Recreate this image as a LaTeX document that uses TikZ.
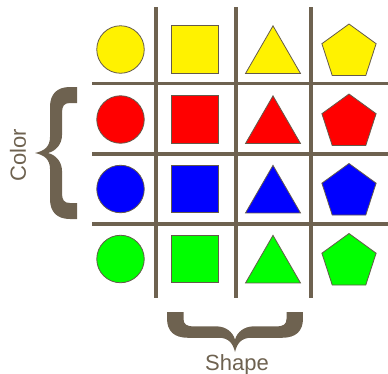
\documentclass[tikz,border=0pt]{standalone}
\usepackage{fontspec}
\setmainfont{Liberation Sans}
\usetikzlibrary{shapes.geometric}
\definecolor{brn}{RGB}{110,98,80}
\definecolor{edgec}{RGB}{100,90,75}
\newcommand\bracefill{%
  \fill[brn] (42,-66) -- (35,-66) .. controls (22,-66) and (15,-59) .. (15,-46)
    -- (15,-16) .. controls (15,-6) and (9,-2) .. (0,0)
    .. controls (9,2) and (15,6) .. (15,16)
    -- (15,46) .. controls (15,59) and (22,66) .. (35,66)
    -- (42,66) -- (42,50) -- (35,50) .. controls (29,50) and (27,47) .. (27,40)
    -- (27,18) .. controls (27,9) and (21,2) .. (13,0)
    .. controls (21,-2) and (27,-9) .. (27,-18)
    -- (27,-40) .. controls (27,-47) and (29,-50) .. (35,-50)
    -- (42,-50) -- cycle;}
\begin{document}
\begin{tikzpicture}[x=1pt,y=-1pt,
  grid/.style={draw=brn,line width=3.6pt},
  shp/.style={draw=edgec,line width=0.8pt,inner sep=0pt,outer sep=0pt},
  circ/.style={shp,circle,minimum size=47.5pt},
  sq/.style={shp,rectangle,minimum size=47.5pt},
  tri/.style={shp,regular polygon,regular polygon sides=3,minimum size=63.5pt},
  pent/.style={shp,regular polygon,regular polygon sides=5,minimum size=57pt},
  lbl/.style={text=brn,font=\fontsize{22}{26}\selectfont,inner sep=0pt}]
\useasboundingbox (0,0) rectangle (388,373);
% grid lines
\coordinate (h1l) at (92,83.5);  \coordinate (h1r) at (388,83.5);
\coordinate (h2l) at (92,154);   \coordinate (h2r) at (388,154);
\coordinate (h3l) at (92,224);   \coordinate (h3r) at (388,224);
\coordinate (v1t) at (156,7);    \coordinate (v1b) at (156,298);
\coordinate (v2t) at (236,7);    \coordinate (v2b) at (236,298);
\coordinate (v3t) at (311,7);    \coordinate (v3b) at (311,298);
\draw[grid] (h1l) -- (h1r);
\draw[grid] (h2l) -- (h2r);
\draw[grid] (h3l) -- (h3r);
\draw[grid] (v1t) -- (v1b);
\draw[grid] (v2t) -- (v2b);
\draw[grid] (v3t) -- (v3b);
% shapes
\foreach \c/\n/\y in {yellow/y/49.5, red/r/119.5, blue/b/189, green/g/259} {
  \node[circ,fill=\c] (\n circ) at (120.5,\y) {};
  \node[sq,fill=\c] (\n sq) at (195,\y) {};
  \node[tri,fill=\c] (\n tri) at (273,\y+8.1) {};
  \node[pent,fill=\c] (\n pent) at (349,\y+3) {};
}
% braces
\begin{scope}[shift={(35,153)}]
  \bracefill
\end{scope}
\begin{scope}[shift={(235,352)},x={(0pt,0.95pt)},y={(1.03pt,0pt)}]
  \bracefill
\end{scope}
% labels
\node[lbl,rotate=90] (color) at (18,155.5) {Color};
\node[lbl,anchor=base] (shape) at (237,370) {Shape};
\end{tikzpicture}
\end{document}
